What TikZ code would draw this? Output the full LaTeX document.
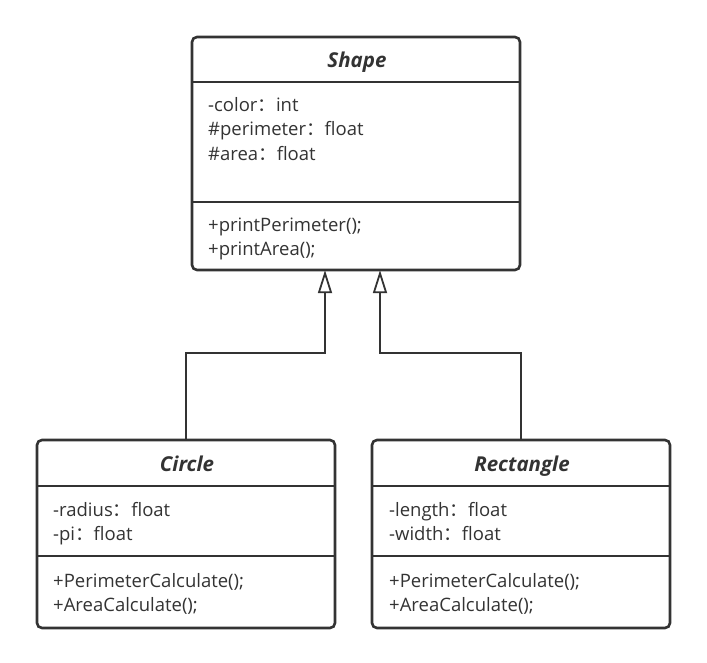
\documentclass[tikz,border=0pt]{standalone}
\usepackage{fontspec}
\setmainfont{Open Sans}
\newfontfamily\cjk{Noto Sans CJK SC}
\usetikzlibrary{arrows.meta}
\newcommand{\cc}{{\cjk ：}}
\definecolor{ln}{HTML}{333333}
\begin{document}
\begin{tikzpicture}[x=1pt,y=-1pt,
  classbox/.style={draw=ln,line width=2.6pt,rounded corners=5pt,fill=white,minimum width=#1,inner sep=0pt},
  sep/.style={draw=ln,line width=2.2pt},
  conn/.style={draw=ln,line width=1.8pt},
  inh/.style={conn,-{Triangle[open,length=23pt,width=14pt,line width=1.8pt]}},
  ttl/.style={anchor=base,inner sep=0pt,text=ln,font=\fontsize{20.5}{24}\selectfont\bfseries\itshape},
  txt/.style={anchor=base west,inner sep=0pt,text=ln,font=\fontsize{18.5}{22}\selectfont}]
\useasboundingbox (0,0) rectangle (707,663);
% boxes
\draw[classbox] (192,37) rectangle (520,270);
\node[inner sep=0pt,minimum width=328pt,minimum height=233pt] (shape) at (356,153.5) {};
\draw[sep] (192,82) -- (520,82);
\draw[sep] (192,202) -- (520,202);
\draw[classbox] (37,440) rectangle (335,628);
\node[inner sep=0pt,minimum width=298pt,minimum height=188pt] (circle) at (186,534) {};
\draw[sep] (37,486) -- (335,486);
\draw[sep] (37,556) -- (335,556);
\draw[classbox] (372,440) rectangle (670,628);
\node[inner sep=0pt,minimum width=298pt,minimum height=188pt] (rect) at (521,534) {};
\draw[sep] (372,486) -- (670,486);
\draw[sep] (372,556) -- (670,556);
% texts
\node[ttl] (t1) at (357,68) {Shape};
\node[txt] (a1) at (208,112) {-color\cc int};
\node[txt] (a2) at (208,136) {\#perimeter\cc float};
\node[txt] (a3) at (208,161) {\#area\cc float};
\node[txt] (m1) at (208,232) {+printPerimeter();};
\node[txt] (m2) at (208,256) {+printArea();};
\node[ttl] (t2) at (187,471) {Circle};
\node[txt] (b1) at (53,516) {-radius\cc float};
\node[txt] (b2) at (53,540) {-pi\cc float};
\node[txt] (b3) at (53,587) {+PerimeterCalculate();};
\node[txt] (b4) at (53,611) {+AreaCalculate();};
\node[ttl] (t3) at (522,471) {Rectangle};
\node[txt] (c1) at (389,516) {-length\cc float};
\node[txt] (c2) at (389,540) {-width\cc float};
\node[txt] (c3) at (389,587) {+PerimeterCalculate();};
\node[txt] (c4) at (389,611) {+AreaCalculate();};
% connectors
\coordinate (e1) at ([xshift=-31pt]shape.south);
\coordinate (e2) at ([xshift=24pt]shape.south);
\coordinate (h1) at (325,353);
\coordinate (h2) at (380,353);
\draw[inh] (circle.north) |- (h1) -- (e1);
\draw[inh] (rect.north) |- (h2) -- (e2);
\end{tikzpicture}
\end{document}
